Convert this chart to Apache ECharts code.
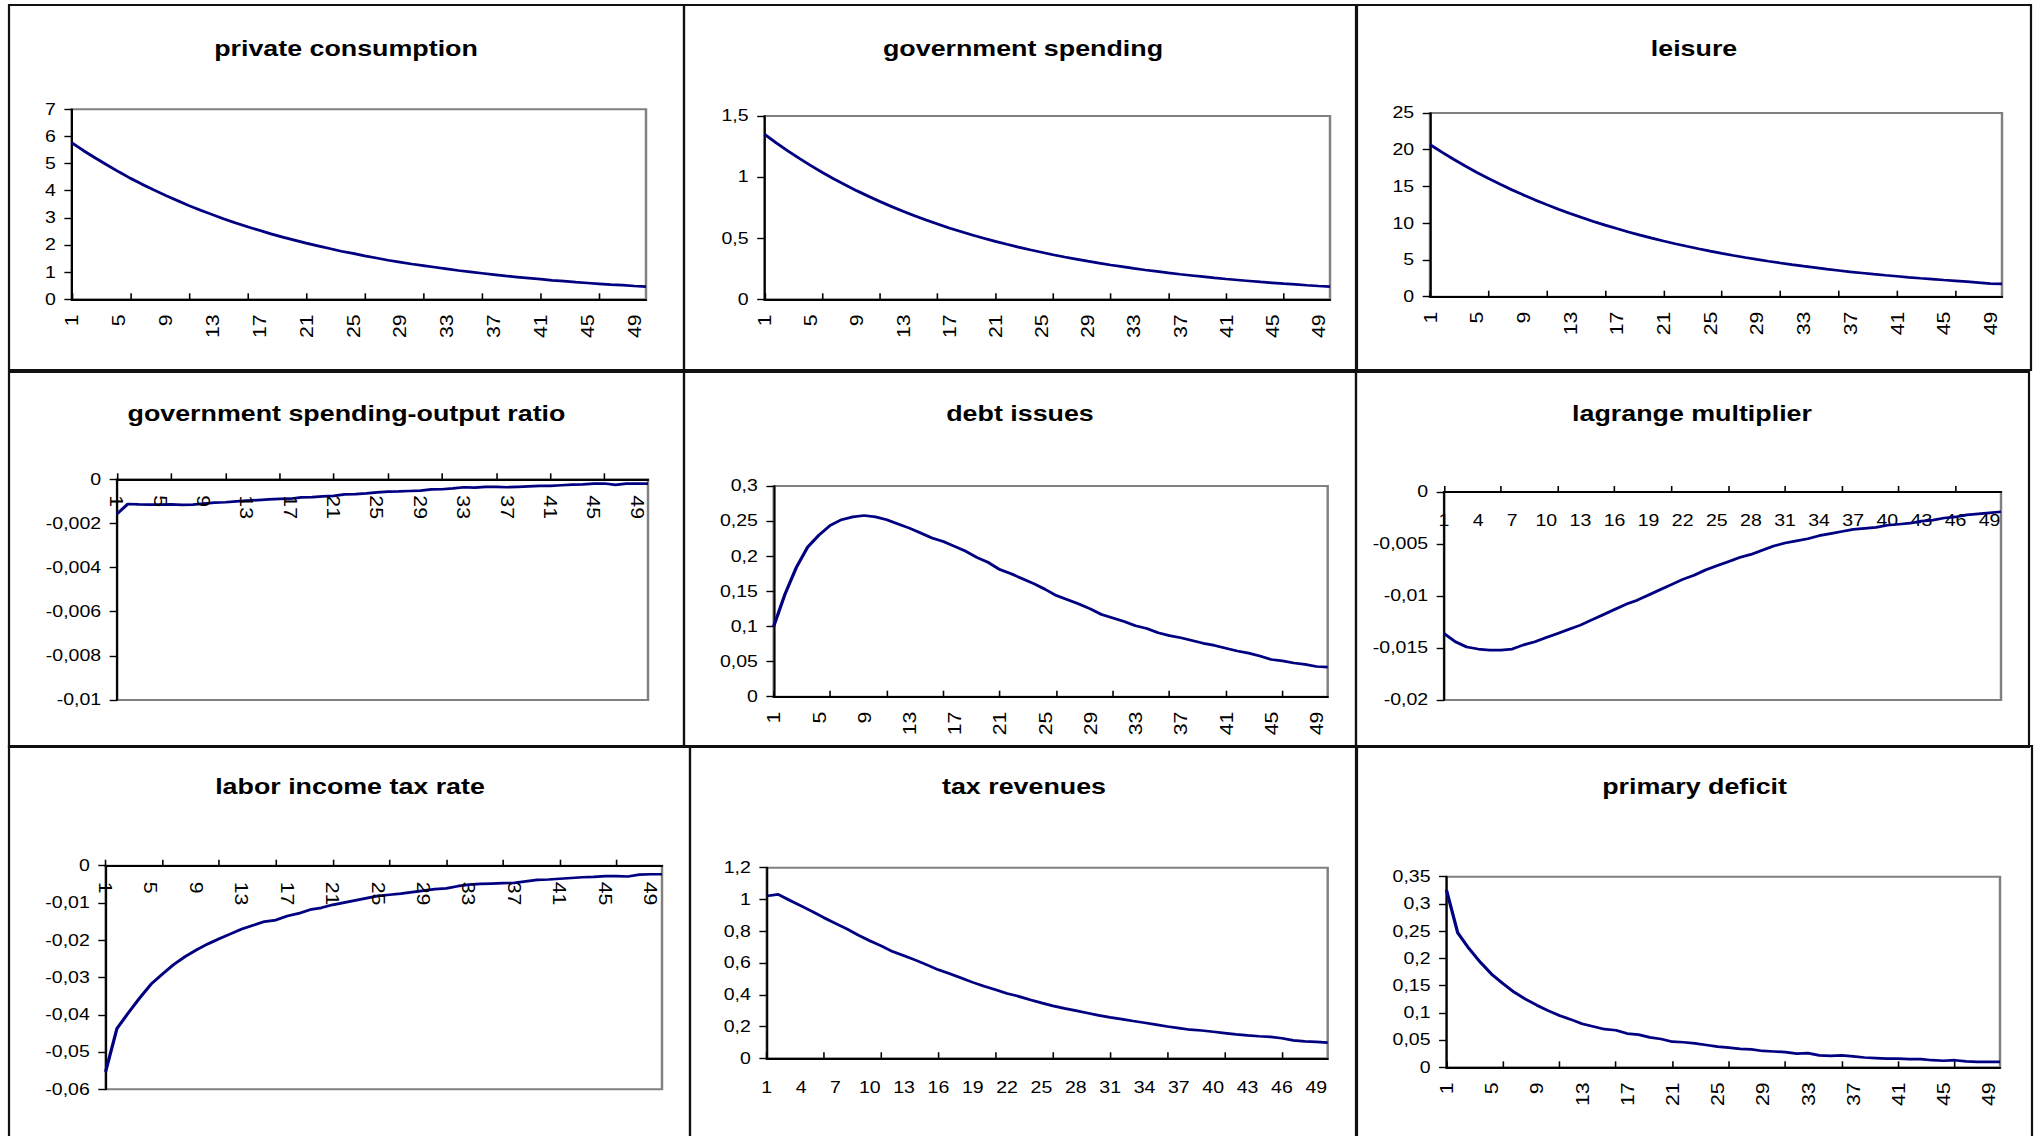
<!DOCTYPE html>
<html><head><meta charset="utf-8">
<script src="https://cdn.jsdelivr.net/npm/echarts@6/dist/echarts.min.js"></script>
<style>
html,body{margin:0;padding:0;background:#fff;overflow:hidden;}
#wrap{width:2037px;height:1136px;overflow:hidden;position:relative;background:#fff;}
#c{position:absolute;left:0;top:0;width:1670px;height:1136px;transform:scaleX(1.219760);transform-origin:0 0;}
#lab{position:absolute;left:0;top:0;width:2037px;height:1015px;transform:scaleY(1.12);transform-origin:0 0;pointer-events:none;}
</style></head>
<body><div id="wrap"><div id="c"></div><div id="lab"></div></div>
<script>
const categories = ['1','2','3','4','5','6','7','8','9','10','11','12','13','14','15','16','17','18','19','20','21','22','23','24','25','26','27','28','29','30','31','32','33','34','35','36','37','38','39','40','41','42','43','44','45','46','47','48','49','50'];

const titles = ['private consumption','government spending','leisure','government spending-output ratio','debt issues','lagrange multiplier','labor income tax rate','tax revenues','primary deficit'];

const privateConsumption = [5.77,5.48,5.21,4.95,4.70,4.46,4.24,4.03,3.83,3.64,3.45,3.28,3.12,2.96,2.81,2.67,2.54,2.41,2.29,2.18,2.07,1.97,1.87,1.77,1.69,1.60,1.52,1.44,1.37,1.30,1.24,1.18,1.12,1.06,1.01,0.96,0.91,0.86,0.82,0.78,0.74,0.70,0.67,0.63,0.60,0.57,0.54,0.52,0.49,0.47];
const governmentSpending = [1.350,1.281,1.216,1.154,1.095,1.039,0.986,0.936,0.888,0.843,0.800,0.759,0.720,0.684,0.649,0.616,0.584,0.555,0.526,0.500,0.474,0.450,0.427,0.405,0.385,0.365,0.346,0.329,0.312,0.296,0.281,0.267,0.253,0.240,0.228,0.216,0.205,0.195,0.185,0.175,0.166,0.158,0.150,0.142,0.135,0.128,0.122,0.115,0.109,0.104];
const leisure = [20.70,19.69,18.72,17.80,16.93,16.10,15.31,14.56,13.85,13.17,12.53,11.91,11.33,10.77,10.24,9.74,9.27,8.81,8.38,7.97,7.58,7.21,6.86,6.52,6.20,5.90,5.61,5.33,5.07,4.82,4.59,4.36,4.15,3.95,3.75,3.57,3.39,3.23,3.07,2.92,2.78,2.64,2.51,2.39,2.27,2.16,2.04,1.92,1.78,1.74];
const govSpendingOutputRatio = [-0.00157,-0.00112,-0.00114,-0.00115,-0.00115,-0.00114,-0.00116,-0.00115,-0.00110,-0.00106,-0.00104,-0.00100,-0.00097,-0.00094,-0.00091,-0.00089,-0.00088,-0.00082,-0.00081,-0.00077,-0.00075,-0.00068,-0.00067,-0.00064,-0.00059,-0.00056,-0.00055,-0.00053,-0.00051,-0.00046,-0.00045,-0.00041,-0.00036,-0.00038,-0.00034,-0.00034,-0.00036,-0.00034,-0.00032,-0.00030,-0.00030,-0.00027,-0.00024,-0.00023,-0.00020,-0.00019,-0.00025,-0.00020,-0.00020,-0.00020];
const debtIssues = [0.100,0.146,0.184,0.213,0.230,0.244,0.252,0.256,0.258,0.256,0.252,0.246,0.240,0.233,0.226,0.221,0.214,0.207,0.198,0.191,0.181,0.175,0.168,0.161,0.153,0.144,0.138,0.132,0.125,0.117,0.112,0.107,0.101,0.097,0.091,0.087,0.084,0.080,0.076,0.073,0.069,0.065,0.062,0.058,0.053,0.051,0.048,0.046,0.043,0.042];
const lagrangeMultiplier = [-0.0136,-0.0144,-0.0149,-0.0151,-0.0152,-0.0152,-0.0151,-0.0147,-0.0144,-0.0140,-0.0136,-0.0132,-0.0128,-0.0123,-0.0118,-0.0113,-0.0108,-0.0104,-0.0099,-0.0094,-0.0089,-0.0084,-0.0080,-0.0075,-0.0071,-0.0067,-0.0063,-0.0060,-0.0056,-0.0052,-0.0049,-0.0047,-0.0045,-0.0042,-0.0040,-0.0038,-0.0036,-0.0035,-0.0034,-0.0032,-0.0031,-0.0030,-0.0028,-0.0027,-0.0025,-0.0024,-0.0022,-0.0021,-0.0020,-0.0019];
const laborIncomeTaxRate = [-0.0553,-0.0437,-0.0395,-0.0355,-0.0318,-0.0291,-0.0265,-0.0244,-0.0226,-0.0210,-0.0196,-0.0183,-0.0170,-0.0160,-0.0150,-0.0146,-0.0135,-0.0128,-0.0118,-0.0113,-0.0105,-0.0099,-0.0093,-0.0087,-0.0081,-0.0078,-0.0075,-0.0071,-0.0067,-0.0063,-0.0061,-0.0055,-0.0051,-0.0049,-0.0048,-0.0047,-0.0046,-0.0042,-0.0038,-0.0037,-0.0035,-0.0033,-0.0031,-0.0030,-0.0028,-0.0028,-0.0029,-0.0024,-0.0023,-0.0023];
const taxRevenues = [1.022,1.032,0.995,0.960,0.924,0.885,0.850,0.815,0.775,0.740,0.708,0.672,0.645,0.618,0.588,0.557,0.532,0.505,0.478,0.453,0.432,0.408,0.390,0.369,0.349,0.330,0.314,0.300,0.285,0.270,0.258,0.247,0.235,0.224,0.212,0.200,0.190,0.180,0.175,0.167,0.159,0.151,0.144,0.139,0.135,0.126,0.113,0.107,0.103,0.099];
const primaryDeficit = [0.326,0.247,0.218,0.193,0.171,0.154,0.138,0.125,0.114,0.104,0.095,0.088,0.080,0.075,0.070,0.068,0.062,0.060,0.055,0.052,0.047,0.046,0.044,0.041,0.038,0.036,0.034,0.033,0.030,0.029,0.028,0.025,0.026,0.022,0.021,0.022,0.020,0.018,0.017,0.016,0.016,0.015,0.015,0.013,0.012,0.013,0.011,0.010,0.010,0.010];

const seriesData = [privateConsumption, governmentSpending, leisure, govSpendingOutputRatio, debtIssues, lagrangeMultiplier, laborIncomeTaxRate, taxRevenues, primaryDeficit];

// y-axis tick ranges
const yMin = [0, 0, 0, -0.01, 0, -0.02, -0.06, 0, 0];
const yMax = [7, 1.5, 25, 0, 0.3, 0, 0, 1.2, 0.35];
const yStep = [1, 0.5, 5, 0.002, 0.05, 0.005, 0.01, 0.2, 0.05];
// x-axis tick label spacing (every n-th category) and rotation
const xLabelEvery = [4, 4, 4, 4, 4, 3, 4, 3, 4];
const xLabelRotate = [90, 90, 90, 90, 90, 0, 90, 0, 90];

// ---- layout (in reference pixels) ----
const S = 2037 / 1670;   // horizontal stretch of the main drawing
const K = 1.12;          // lengthwise stretch of the rotated category labels
const plots = [
  [71.7, 109.3, 646, 299.3],
  [764.5, 116, 1330, 299.3],
  [1430, 113, 2002, 296.7],
  [117, 479.3, 648, 700],
  [773.7, 486, 1327.7, 696.7],
  [1444, 492, 2001, 700],
  [105.6, 865.7, 662, 1089.3],
  [766.7, 867.7, 1327.7, 1058.3],
  [1446.4, 876.7, 2000, 1067.3]
];
const titlePos = [[346, 48], [1023, 48], [1694, 48], [346.5, 413], [1020, 413], [1692, 413], [350, 786.5], [1024, 786.5], [1694.6, 786.5]];
const panels = [
  [9, 5, 684, 370], [684, 5, 1356, 370], [1357, 5, 2031, 370],
  [9, 372, 684, 747], [684, 372, 1356, 747], [1356, 372, 2029, 747],
  [9, 746, 690, 1145], [690, 746, 1356, 1145], [1357, 746, 2032, 1145]
];

const FONT = '"Liberation Sans", Arial, sans-serif';
const fmt = v => String(+(+v).toFixed(6)).replace('.', ',');

const grids = [], xAxes = [], yAxes = [], series = [], graphics = [];
const gridsB = [], xAxesB = [], yAxesB = [];
panels.forEach(p => {
  graphics.push({type: 'rect', silent: true, z: 1,
    shape: {x: p[0] / S, y: p[1], width: (p[2] - p[0]) / S, height: p[3] - p[1]},
    style: {fill: 'none', stroke: '#111', lineWidth: 1.8}});
});
for (let i = 0; i < 9; i++) {
  const [L, T, R, B] = plots[i];
  grids.push({left: L / S, top: T, width: (R - L) / S, height: B - T, show: true,
    borderColor: '#808080', borderWidth: 2, backgroundColor: 'rgba(0,0,0,0)',
    containLabel: false, outerBoundsMode: 'none'});
  const negative = yMax[i] === 0;
  const rot = xLabelRotate[i];
  xAxes.push({type: 'category', gridIndex: i, data: categories, boundaryGap: false,
    position: negative ? 'top' : 'bottom',
    axisLine: {show: true, onZero: false, lineStyle: {color: '#000', width: 2}},
    axisTick: {show: true, inside: !negative, length: 6, interval: 4, lineStyle: {color: '#000', width: 1.3}},
    axisLabel: {show: !rot, inside: negative, interval: xLabelEvery[i] - 1, rotate: 0, margin: 21,
      fontSize: 16, fontFamily: FONT, color: '#000', hideOverlap: false},
    splitLine: {show: false}});
  yAxes.push({type: 'value', gridIndex: i, min: yMin[i], max: yMax[i], interval: yStep[i],
    axisLine: {show: true, onZero: false, lineStyle: {color: '#000', width: 1.7}},
    axisTick: {show: true, length: 6, lineStyle: {color: '#000', width: 1.4}},
    axisLabel: {margin: 13, fontSize: 16, fontFamily: FONT, color: '#000', formatter: fmt},
    splitLine: {show: false}});
  series.push({type: 'line', xAxisIndex: i, yAxisIndex: i, data: seriesData[i], name: titles[i],
    showSymbol: false, symbol: 'none', smooth: false, animation: false,
    lineStyle: {color: '#000080', width: 2.7}});
  graphics.push({type: 'text', silent: true, z: 10, x: titlePos[i][0] / S, y: titlePos[i][1],
    style: {text: titles[i], font: 'bold 22px ' + FONT, fill: '#000',
      textAlign: 'center', textVerticalAlign: 'middle', align: 'center', verticalAlign: 'middle'}});

  // rotated category labels: second layer, stretched along the text direction
  gridsB.push({left: L, top: T / K, width: R - L, height: (B - T) / K, show: false,
    containLabel: false, outerBoundsMode: 'none'});
  xAxesB.push({type: 'category', gridIndex: i, data: categories, boundaryGap: false,
    position: negative ? 'top' : 'bottom',
    axisLine: {show: false, onZero: false}, axisTick: {show: false},
    axisLabel: {show: !!rot, inside: negative, interval: xLabelEvery[i] - 1, rotate: 90,
      margin: (negative ? 16 : 15) / K, fontSize: 19, fontFamily: FONT, color: '#000', hideOverlap: false},
    splitLine: {show: false}});
  yAxesB.push({type: 'value', gridIndex: i, min: yMin[i], max: yMax[i], interval: yStep[i], show: false});
}

const chart = echarts.init(document.getElementById('c'), null, {renderer: 'svg', width: 1670, height: 1136});
chart.setOption({
  animation: false,
  backgroundColor: '#fff',
  textStyle: {fontFamily: FONT},
  grid: grids, xAxis: xAxes, yAxis: yAxes, series: series,
  graphic: {elements: graphics}
});
const labelLayer = echarts.init(document.getElementById('lab'), null, {renderer: 'svg', width: 2037, height: 1015});
labelLayer.setOption({
  animation: false,
  backgroundColor: 'rgba(0,0,0,0)',
  textStyle: {fontFamily: FONT},
  grid: gridsB, xAxis: xAxesB, yAxis: yAxesB, series: []
});
</script>
</body></html>
